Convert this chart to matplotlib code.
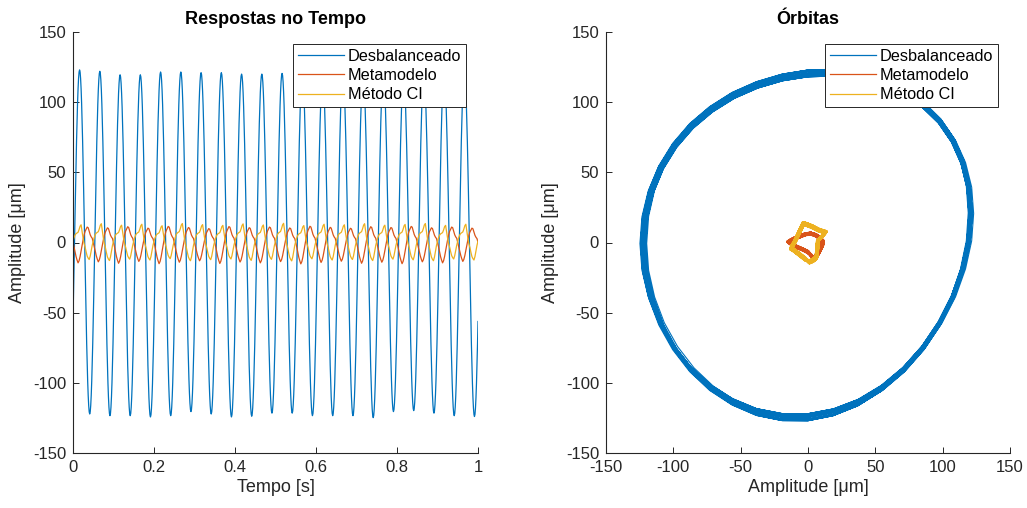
import numpy as np
import matplotlib
matplotlib.use('Agg')
import matplotlib.pyplot as plt

plt.rcParams['font.family'] = ['Liberation Sans', 'DejaVu Sans']
plt.rcParams['axes.unicode_minus'] = False

# ---------------- data ----------------
t_blue = np.linspace(0.0, 1.0, 801)     # 40 samples per 0.05 s cycle
t = np.linspace(0.0, 1.0, 401)          # 20 samples per 0.05 s cycle
blue_spc = 40
spc = 20
blue_offset = 7                          # sample offset of the first trough

# normalised x shape of one cycle of the unbalanced response
blue_x_unit = [-1.0, -0.988, -0.951, -0.891, -0.809, -0.707, -0.588, -0.454, -0.309, -0.156,
               0.0, 0.156, 0.309, 0.454, 0.588, 0.707, 0.809, 0.891, 0.951, 0.988,
               1.0, 0.988, 0.951, 0.891, 0.809, 0.707, 0.588, 0.454, 0.309, 0.156,
               0.0, -0.156, -0.309, -0.454, -0.588, -0.707, -0.809, -0.891, -0.951, -0.988]
# y shape of one cycle of the unbalanced orbit [um]
blue_y_cycle = [-0.7, -20.1, -39.2, -57.7, -74.8, -90.2, -103.3, -113.5, -120.8, -124.4,
                -124.5, -121.0, -114.1, -103.8, -90.7, -75.1, -57.4, -38.6, -18.8, 1.1,
                20.7, 39.5, 57.0, 72.7, 86.6, 98.2, 107.5, 114.5, 119.0, 121.0,
                120.5, 117.6, 112.3, 104.8, 94.9, 83.1, 69.2, 53.6, 36.6, 18.3]
# per-cycle extremes of the unbalanced response [um]
blue_peaks = [123, 122, 119.5, 119.5, 121.5, 121.5, 121, 121, 120, 120,
              120.5, 121, 119.5, 122, 120, 121.5, 119, 120.5, 122, 121.5]
blue_troughs = [122.2, 123.4, 123.4, 124.3, 123.4, 120.5, 122.2, 124.3, 123.8, 121.6,
                121.6, 123.4, 123.4, 123.4, 124.8, 120.5, 119.8, 121.6, 123.4, 124.0]
blue_y_scale = [1.0, 1.015, 0.985, 1.02, 0.995, 0.98, 1.01, 0.99, 1.02, 0.98,
                1.0, 1.015, 0.985, 1.01, 1.0, 0.98, 1.02, 0.99, 1.015, 0.985]

# one cycle of the Metamodelo response (x shown on the left, y for the orbit) [um]
red_x_cycle = [0, -3, -6.5, -10, -12.5, -14.5, -13, -10, -6, -2,
               2, 5.5, 8, 9.5, 11, 10.5, 8, 5.5, 4, 3]
red_y_cycle = [-7, -5.5, -4, -2.5, -1, 0.5, 1.5, 3, 4.5, 6,
               6.5, 5.5, 4, 2.5, 1, -2, -7, -11, -12.5, -10]
# one cycle of the Metodo CI response [um]
yel_x_cycle = [1, 3.5, 5.5, 6.5, 7, 7.5, 9.5, 12, 13, 8,
               3, -1, -3.5, -7, -10, -11.5, -12.5, -10, -6, -2]
yel_y_cycle = [-14, -13, -11.5, -10, -4, 1.5, 3.5, 6, 7.5, 9,
               11.5, 13, 13.7, 6.5, 0.5, -2, -4.5, -6, -9, -12]
red_scale = [1.0, 0.95, 1.02, 0.93, 1.04, 0.97, 0.9, 1.03, 0.96, 1.0,
             0.94, 1.05, 0.98, 0.92, 1.02, 0.97, 1.04, 0.95, 1.0, 0.93]
yel_scale = [0.97, 1.03, 0.95, 1.0, 0.92, 1.04, 0.98, 0.94, 1.02, 0.96,
             1.05, 0.93, 1.0, 0.97, 1.03, 0.95, 0.99, 1.04, 0.94, 1.0]

labels = ['Desbalanceado', 'Metamodelo', 'Método CI']
colors = ['#0072BD', '#D95319', '#EDB120']

# ---------------- build the series from the cycle data ----------------
nb = len(t_blue)
bx = np.zeros(nb); by = np.zeros(nb)
for i in range(nb):
    j = (i + blue_offset) % blue_spc
    k = (i + blue_offset) // blue_spc
    u = blue_x_unit[j]
    if u >= 0:
        bx[i] = u * blue_peaks[min(k, 19)]
    else:
        idx = k - 1 if j <= 10 else k
        bx[i] = u * blue_troughs[int(np.clip(idx, 0, 19))]
    by[i] = blue_y_cycle[j] * blue_y_scale[min(k, 19)]

n = len(t)
rx = np.zeros(n); ry = np.zeros(n)
yx = np.zeros(n); yy = np.zeros(n)
for i in range(n):
    j2 = i % spc
    k2 = min(i // spc, 19)
    rx[i] = red_x_cycle[j2] * red_scale[k2]
    ry[i] = red_y_cycle[j2] * red_scale[k2]
    yx[i] = yel_x_cycle[j2] * yel_scale[k2]
    yy[i] = yel_y_cycle[j2] * yel_scale[k2]

# ---------------- figure ----------------
W, H = 1027, 508
fig = plt.figure(figsize=(W / 100, H / 100), dpi=100)
axc = '#262626'
ax1 = fig.add_axes([73 / W, 55 / H, 405 / W, 421 / H])
ax2 = fig.add_axes([606 / W, 55 / H, 404 / W, 421 / H])

lw = 0.9
ax1.plot(t_blue, bx, color=colors[0], lw=lw, label=labels[0])
ax1.plot(t, rx, color=colors[1], lw=lw, label=labels[1])
ax1.plot(t, yx, color=colors[2], lw=lw, label=labels[2])

ax2.plot(bx, by, color=colors[0], lw=0.8, label=labels[0])
ax2.plot(rx, ry, color=colors[1], lw=2.0, label=labels[1])
ax2.plot(yx, yy, color=colors[2], lw=2.0, label=labels[2])

ax1.set_xlim(0, 1)
ax1.set_ylim(-150, 150)
ax1.set_xticks([0, 0.2, 0.4, 0.6, 0.8, 1])
ax1.set_xticklabels(['0', '0.2', '0.4', '0.6', '0.8', '1'])
ax2.set_xlim(-150, 150)
ax2.set_ylim(-150, 150)
ax2.set_xticks(np.arange(-150, 151, 50))
for ax in (ax1, ax2):
    ax.set_yticks(np.arange(-150, 151, 50))
    for s in ('top', 'right'):
        ax.spines[s].set_visible(False)
    for s in ('left', 'bottom'):
        ax.spines[s].set_color(axc)
        ax.spines[s].set_linewidth(0.8)
    ax.tick_params(direction='in', length=4, width=0.7, colors=axc,
                   labelsize=12, pad=5)
    ax.set_ylabel('Amplitude [μm]', fontsize=13, color=axc, labelpad=5)
    leg = ax.legend(loc='upper right', fontsize=11.7, fancybox=False,
                    framealpha=1, edgecolor=axc, borderaxespad=0.75,
                    handlelength=2.8, handletextpad=0.25, borderpad=0.3,
                    labelspacing=0.25)
    leg.get_frame().set_linewidth(0.7)
    for h in leg.get_lines():
        h.set_linewidth(0.9)

ax1.set_xlabel('Tempo [s]', fontsize=13, color=axc, labelpad=3)
ax2.set_xlabel('Amplitude [μm]', fontsize=13, color=axc, labelpad=3)
ax1.set_title('Respostas no Tempo', fontsize=13, fontweight='bold', pad=6)
ax2.set_title('Órbitas', fontsize=13, fontweight='bold', pad=6)

fig.savefig('out.png', dpi=100)
